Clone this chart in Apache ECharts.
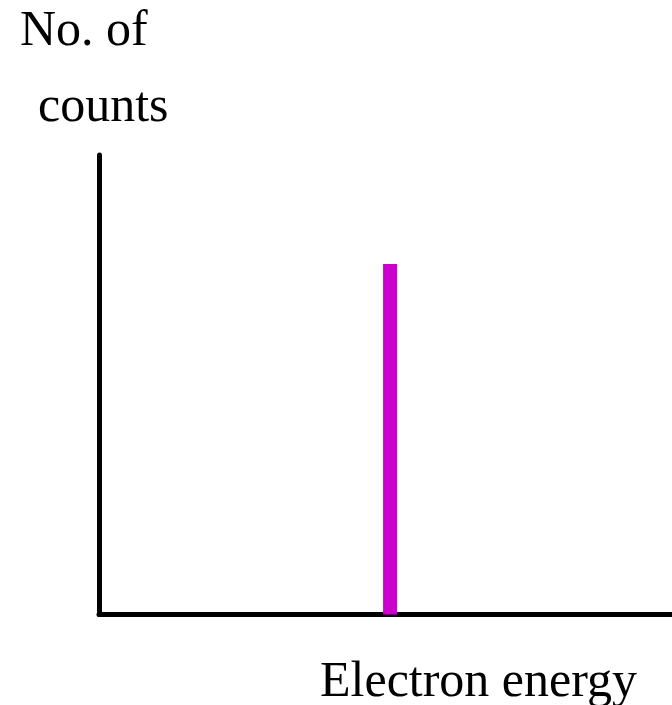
<!DOCTYPE html>
<html>
<head>
<meta charset="utf-8">
<script src="https://cdn.jsdelivr.net/npm/echarts@6/dist/echarts.min.js"></script>
<style>html,body{margin:0;padding:0;background:#fff;}#c{width:672px;height:705px;}</style>
</head>
<body>
<div id="c"></div>
<script>
const peakEnergy = [50.8];
const peakCounts = [76.3];
const xLabel = 'Electron energy';
const yLabelLines = ['No. of', 'counts'];

const chart = echarts.init(document.getElementById('c'), null, {renderer: 'canvas'});
const font = '"Liberation Serif", "Times New Roman", serif';
chart.setOption({
  animation: false,
  backgroundColor: '#ffffff',
  grid: {left: 99, right: 0, top: 155, bottom: 90.5},
  xAxis: {
    type: 'value', min: 0, max: 100,
    axisLine: {show: true, lineStyle: {color: '#000', width: 5}},
    axisTick: {show: false}, axisLabel: {show: false}, splitLine: {show: false}
  },
  yAxis: {
    type: 'value', min: 0, max: 100,
    axisLine: {show: true, lineStyle: {color: '#000', width: 5}},
    axisTick: {show: false}, axisLabel: {show: false}, splitLine: {show: false}
  },
  series: [{
    type: 'bar',
    barWidth: 14,
    itemStyle: {color: '#cc00cc'},
    data: peakEnergy.map((e, i) => [e, peakCounts[i]]),
    z: 1
  }],
  graphic: [
    {type: 'text', left: 20, top: 7, style: {text: yLabelLines[0], font: '50px ' + font, fill: '#000'}},
    {type: 'text', left: 38, top: 83, style: {text: yLabelLines[1], font: '50px ' + font, fill: '#000'}},
    {type: 'text', left: 320, top: 658, style: {text: xLabel, font: '50px ' + font, fill: '#000'}}
  ]
});
</script>
</body>
</html>
